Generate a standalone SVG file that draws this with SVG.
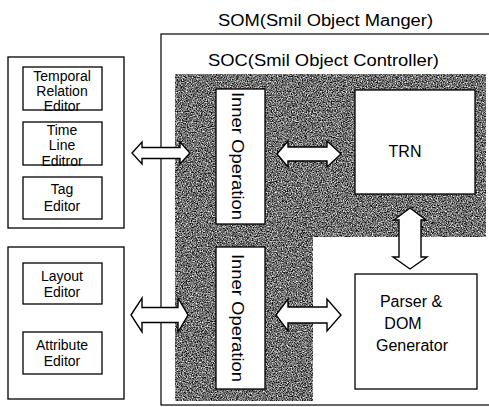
<svg xmlns="http://www.w3.org/2000/svg" width="489" height="407" viewBox="0 0 489 407">
<style>
.t{font-family:"Liberation Sans",Arial,sans-serif;fill:#000;}
.box{fill:#fff;stroke:#000;stroke-width:1.3;}
.arr{fill:#fff;stroke:#000;stroke-width:1.4;stroke-linejoin:miter;}
.sm{font-size:14px;text-anchor:middle;}
.md{font-size:16px;text-anchor:middle;}
</style>
<defs>
<filter id="noise" x="0" y="0" width="100%" height="100%" color-interpolation-filters="sRGB">
<feTurbulence type="fractalNoise" baseFrequency="0.8" numOctaves="3" seed="7" result="t"/>
<feColorMatrix in="t" type="matrix" values="1.6 0 0 0 -0.36  1.6 0 0 0 -0.36  1.6 0 0 0 -0.36  0 0 0 0 1" result="g"/>
<feComposite in="g" in2="SourceGraphic" operator="in"/>
</filter>
</defs>
<rect width="489" height="407" fill="#fff"/>

<g id="som">
<rect x="161" y="34" width="340" height="371" fill="none" stroke="#000" stroke-width="1.2"/>
<text class="t" x="218" y="26" font-size="16" textLength="215" lengthAdjust="spacingAndGlyphs">SOM(Smil Object Manger)</text>
</g>

<g id="soc">
<text class="t" x="208" y="66" font-size="17" textLength="231" lengthAdjust="spacingAndGlyphs">SOC(Smil Object Controller)</text>
<path d="M175,74 H486 V237 H313 V401 H175 Z" fill="#000" filter="url(#noise)"/>
</g>

<g id="editors-top">
<rect class="box" x="8" y="57" width="116" height="171"/>
<g id="temporal">
<rect class="box" x="23" y="67" width="79" height="43"/>
<text class="t sm" x="62" y="81">Temporal</text>
<text class="t sm" x="62" y="96">Relation</text>
<text class="t sm" x="62" y="111">Editor</text>
</g>
<g id="timeline">
<rect class="box" x="23" y="122" width="79" height="43"/>
<text class="t sm" x="62" y="135">Time</text>
<text class="t sm" x="62" y="150">Line</text>
<text class="t sm" x="62" y="166">Editror</text>
</g>
<g id="tag">
<rect class="box" x="23" y="177" width="79" height="42"/>
<text class="t sm" x="62" y="194">Tag</text>
<text class="t sm" x="62" y="211">Editor</text>
</g>
</g>

<g id="editors-bottom">
<rect class="box" x="8" y="247" width="116" height="152"/>
<g id="layout">
<rect class="box" x="23" y="263" width="79" height="41"/>
<text class="t sm" x="62" y="281">Layout</text>
<text class="t sm" x="62" y="297">Editor</text>
</g>
<g id="attribute">
<rect class="box" x="23" y="332" width="79" height="42"/>
<text class="t sm" x="62" y="350">Attribute</text>
<text class="t sm" x="62" y="366">Editor</text>
</g>
</g>

<g id="inner-op-1">
<rect class="box" x="216" y="89" width="49" height="135"/>
<text class="t" font-size="16" text-anchor="middle" transform="translate(232,156) rotate(90)" textLength="128" lengthAdjust="spacingAndGlyphs">Inner Operation</text>
</g>
<g id="inner-op-2">
<rect class="box" x="216" y="247" width="49" height="142"/>
<text class="t" font-size="16" text-anchor="middle" transform="translate(232,318) rotate(90)" textLength="128" lengthAdjust="spacingAndGlyphs">Inner Operation</text>
</g>

<g id="trn">
<rect class="box" x="355" y="90" width="120" height="104"/>
<text class="t md" x="405" y="157">TRN</text>
</g>

<g id="parser">
<rect class="box" x="355" y="274" width="122" height="115"/>
<text class="t md" x="411" y="307">Parser &amp;</text>
<text class="t md" x="403" y="329">DOM</text>
<text class="t md" x="412" y="351">Generator</text>
</g>

<g id="connectors">
<path class="arr" d="M132,153 L142,142 V147.5 H180 V142 L190,153 L180,164 V158.5 H142 V164 Z"/>
<path class="arr" d="M131,315 L142,298 V307.5 H178 V298 L188,315 L178,332 V322.5 H142 V332 Z"/>
<path class="arr" d="M277,154 L288,141 V147 H327 V141 L341,154 L327,167 V161 H288 V167 Z"/>
<path class="arr" d="M276,315 L288,299 V307 H327 V299 L341,315 L327,331 V323 H288 V331 Z"/>
<path class="arr" d="M410,208 L426,220 H421 V257 H427 L410,269 L393,257 H399 V220 H394 Z"/>
</g>
</svg>
